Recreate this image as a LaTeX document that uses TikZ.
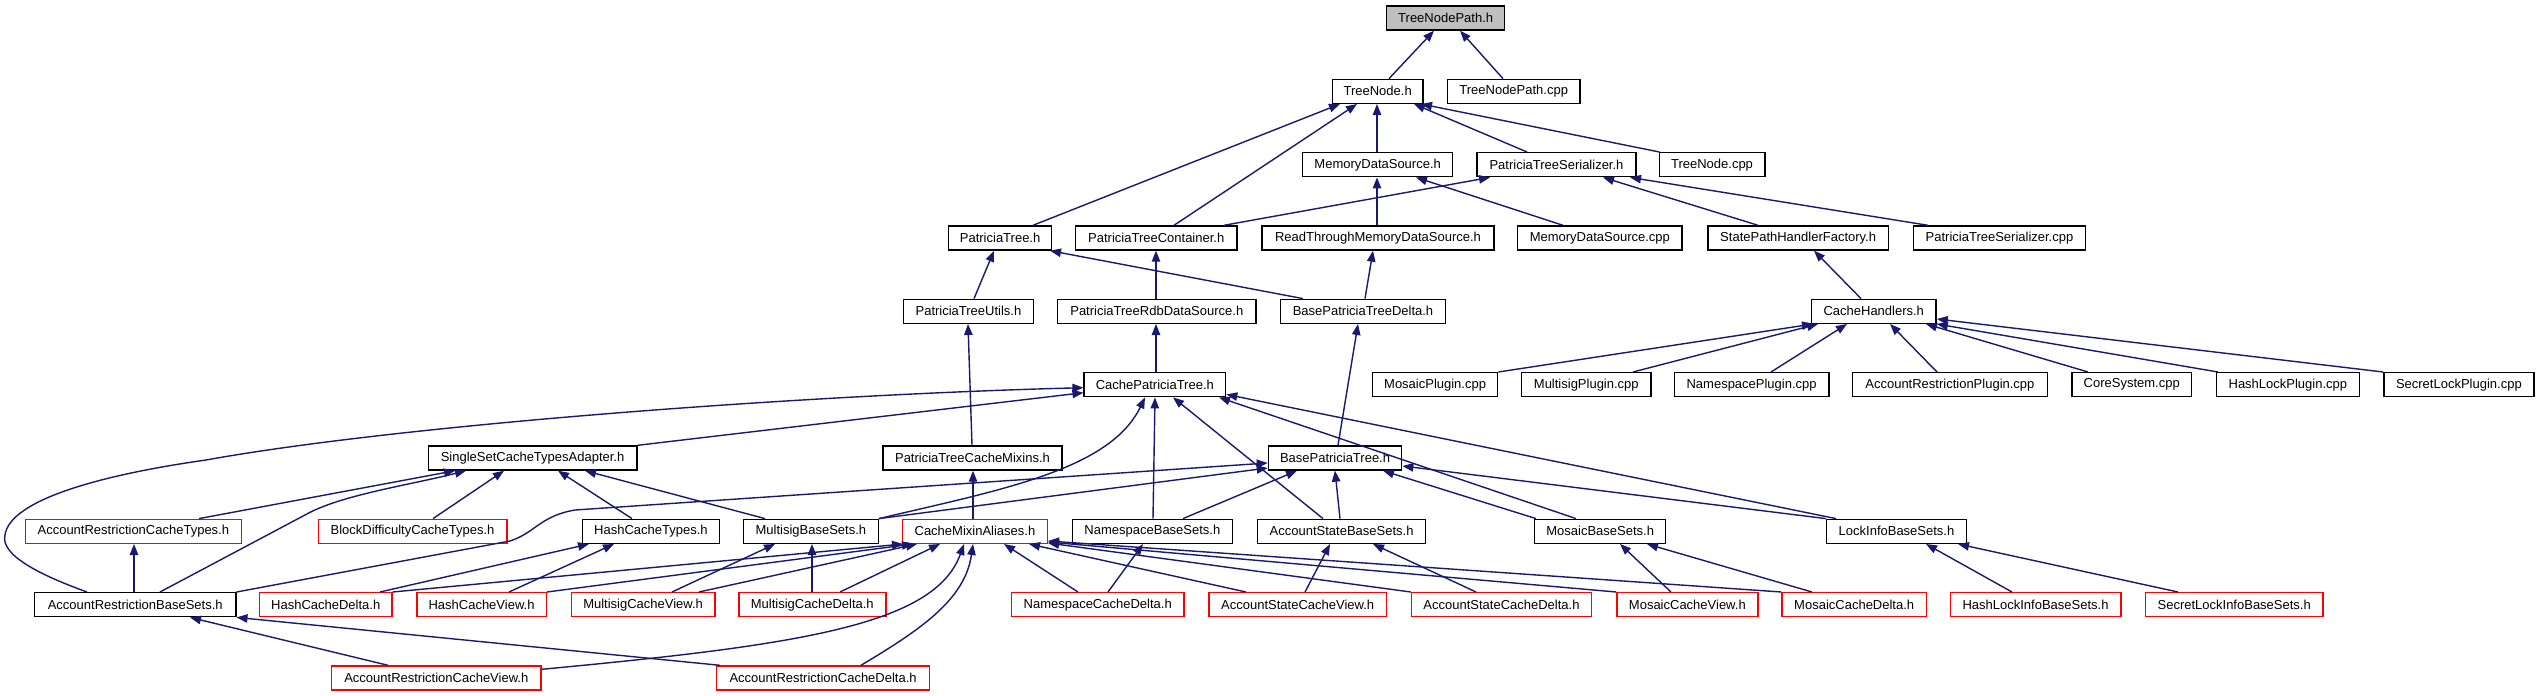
\documentclass[tikz,border=0pt]{standalone}
\usepackage{fontspec}
\setmainfont{Liberation Sans}
\usetikzlibrary{arrows.meta,calc}
\definecolor{navyc}{HTML}{191970}
\definecolor{redc}{HTML}{FF0000}
\newcommand\gnode[6]{\pgfmathsetmacro\gcx{(#3+#4)/2}\pgfmathsetmacro\gw{(#4-#3)*0.5}\node[#2, minimum width=\gw pt] (#1) at (\gcx,#5) {#6};}
\newcommand\ed[4]{\draw[edge] (#1.north -| #2,0) -- (#3.south -| #4,0);}
\begin{document}
\begin{tikzpicture}[x=0.5pt,y=-0.5pt,
  box/.style={draw=black, line width=0.7pt, fill=white, minimum height=12pt, inner sep=0pt, font=\fontsize{6.5}{7}\selectfont},
  redbox/.style={box, draw=redc},
  rootbox/.style={box, fill=gray!50},
  edge/.style={draw=navyc, line width=0.7pt, -{Triangle[length=5.5pt,width=4.2pt]}}]
\useasboundingbox (0,0) rectangle (2539,696);
\fill[white] (0,0) rectangle (2539,696);
% nodes
\gnode{TNP}{rootbox}{1386.6}{1504.7}{18}{TreeNodePath.h}
\gnode{TN}{box}{1332.4}{1422.9}{91.3}{TreeNode.h}
\gnode{TNPcpp}{box}{1447.3}{1580.1}{91.3}{TreeNodePath.cpp}
\gnode{MDS}{box}{1302.6}{1452.7}{164.7}{MemoryDataSource.h}
\gnode{PTS}{box}{1477.1}{1635.9}{164.7}{PatriciaTreeSerializer.h}
\gnode{TNcpp}{box}{1659.2}{1764.8}{164.7}{TreeNode.cpp}
\gnode{PT}{box}{948.6}{1051.6}{238}{PatriciaTree.h}
\gnode{PTC}{box}{1075.5}{1237}{238}{PatriciaTreeContainer.h}
\gnode{RTMDS}{box}{1262}{1494}{238}{ReadThroughMemoryDataSource.h}
\gnode{MDScpp}{box}{1517.7}{1682}{238}{MemoryDataSource.cpp}
\gnode{SPHF}{box}{1707.9}{1888.4}{238}{StatePathHandlerFactory.h}
\gnode{PTScpp}{box}{1913.3}{2085.7}{238}{PatriciaTreeSerializer.cpp}
\gnode{PTU}{box}{903.7}{1033.2}{311.3}{PatriciaTreeUtils.h}
\gnode{PTRDB}{box}{1057.6}{1256}{311.3}{PatriciaTreeRdbDataSource.h}
\gnode{BPTD}{box}{1280.3}{1445.7}{311.3}{BasePatriciaTreeDelta.h}
\gnode{CH}{box}{1811.4}{1936.1}{311.3}{CacheHandlers.h}
\gnode{CPT}{box}{1084.1}{1225.6}{384.7}{CachePatriciaTree.h}
\gnode{MPcpp}{box}{1372.5}{1497.7}{384.7}{MosaicPlugin.cpp}
\gnode{MSPcpp}{box}{1521.5}{1651.1}{384.7}{MultisigPlugin.cpp}
\gnode{NPcpp}{box}{1674.4}{1828.8}{384.7}{NamespacePlugin.cpp}
\gnode{ARPcpp}{box}{1852.6}{2047.2}{384.7}{AccountRestrictionPlugin.cpp}
\gnode{CScpp}{box}{2072.1}{2191.4}{384.7}{CoreSystem.cpp}
\gnode{HLPcpp}{box}{2216.3}{2359.4}{384.7}{HashLockPlugin.cpp}
\gnode{SLPcpp}{box}{2383.8}{2533.9}{384.7}{SecretLockPlugin.cpp}
\gnode{SSCTA}{box}{428.2}{636.9}{458}{SingleSetCacheTypesAdapter.h}
\gnode{PTCM}{box}{883}{1062}{458}{PatriciaTreeCacheMixins.h}
\gnode{BPT}{box}{1268.4}{1401.7}{458}{BasePatriciaTree.h}
\gnode{ARCT}{redbox}{25.5}{241.2}{531.3}{AccountRestrictionCacheTypes.h}
\gnode{BDCT}{redbox}{318.2}{506.8}{531.3}{BlockDifficultyCacheTypes.h}
\gnode{HCT}{box}{582.7}{719.2}{531.3}{HashCacheTypes.h}
\gnode{MSBS}{box}{743.6}{878.2}{531.3}{MultisigBaseSets.h}
\gnode{CMA}{redbox}{902.6}{1047.3}{531.3}{CacheMixinAliases.h}
\gnode{NBS}{box}{1072.2}{1232.6}{531.3}{NamespaceBaseSets.h}
\gnode{ASBS}{box}{1257.6}{1425.6}{531.3}{AccountStateBaseSets.h}
\gnode{MBS}{box}{1534.6}{1665.7}{531.3}{MosaicBaseSets.h}
\gnode{LIBS}{box}{1826.6}{1966.4}{531.3}{LockInfoBaseSets.h}
\gnode{ARBS}{box}{34.7}{235.8}{604.7}{AccountRestrictionBaseSets.h}
\gnode{HCD}{redbox}{259.6}{391.9}{604.7}{HashCacheDelta.h}
\gnode{HCV}{redbox}{416.8}{546.3}{604.7}{HashCacheView.h}
\gnode{MSCV}{redbox}{571.3}{714.9}{604.7}{MultisigCacheView.h}
\gnode{MSCD}{redbox}{738.8}{885.8}{604.7}{MultisigCacheDelta.h}
\gnode{NCD}{redbox}{1011.5}{1183.9}{604.7}{NamespaceCacheDelta.h}
\gnode{ASCV}{redbox}{1208.8}{1386.6}{604.7}{AccountStateCacheView.h}
\gnode{ASCD}{redbox}{1411.5}{1591.5}{604.7}{AccountStateCacheDelta.h}
\gnode{MCV}{redbox}{1616.9}{1757.8}{604.7}{MosaicCacheView.h}
\gnode{MCD}{redbox}{1782.1}{1926.3}{604.7}{MosaicCacheDelta.h}
\gnode{HLIBS}{redbox}{1950.2}{2120.9}{604.7}{HashLockInfoBaseSets.h}
\gnode{SLIBS}{redbox}{2145.3}{2323.1}{604.7}{SecretLockInfoBaseSets.h}
\gnode{ARCV}{redbox}{331.7}{540.9}{678}{AccountRestrictionCacheView.h}
\gnode{ARCD}{redbox}{716.5}{929.7}{678}{AccountRestrictionCacheDelta.h}
% upper edges
\ed{TN}{1389}{TNP}{1434}
\ed{TNPcpp}{1503}{TNP}{1460}
\ed{PT}{1033}{TN}{1340}
\ed{PTC}{1174}{TN}{1357}
\ed{MDS}{1377}{TN}{1377}
\ed{PTS}{1527}{TN}{1414}
\ed{TNcpp}{1659.5}{TN}{1421}
\ed{PTC}{1224}{PTS}{1490}
\ed{SPHF}{1758}{PTS}{1603}
\ed{PTScpp}{1928}{PTS}{1630}
\ed{RTMDS}{1377}{MDS}{1377}
\ed{MDScpp}{1563}{MDS}{1416}
\ed{PTU}{974}{PT}{994}
\ed{BPTD}{1303}{PT}{1050}
\ed{PTRDB}{1156}{PTC}{1156}
\ed{BPTD}{1365}{RTMDS}{1373}
\ed{CH}{1861}{SPHF}{1814}
\ed{CPT}{1156}{PTRDB}{1156}
\ed{BPT}{1338}{BPTD}{1358}
\ed{PTCM}{972}{PTU}{968}
% CacheHandlers
\draw[edge] (MPcpp.north east) -- (CH.south -| 1813,0);
\ed{MSPcpp}{1633}{CH}{1818}
\ed{NPcpp}{1771}{CH}{1847}
\ed{ARPcpp}{1937}{CH}{1890}
\ed{CScpp}{2088}{CH}{1926}
\draw[edge] (HLPcpp.north -| 2218,0) -- (CH.south east);
\draw[edge] (SLPcpp.north west) -- ($(CH.south east)+(0,-5)$);
% CachePatriciaTree
\draw[edge] (SSCTA.north east) -- ($(CPT.west)+(0,8)$);
\draw[edge] (ARBS.north -| 87,0) .. controls (40,575) and (0,555) .. (5,535) .. controls (10,500) and (100,475) .. (206,460) .. controls (400,425) and (800,395) .. ($(CPT.west)+(0,3)$);
\draw[edge] (MSBS.north east) .. controls (1000,490) and (1110,470) .. (CPT.south -| 1145,0);
\ed{NBS}{1153}{CPT}{1155}
\ed{ASBS}{1323}{CPT}{1173}
\draw[edge] (MBS.north -| 1576,0) -- (CPT.south -| 1219,0);
\draw[edge] (LIBS.north -| 1836,0) -- ($(CPT.south east)+(0,-3)$);
% BasePatriciaTree
\draw[edge] (ARBS.north east) -- (510,541) .. controls (535,533) and (540,516) .. (575,510) -- ($(BPT.west)+(0,5)$);
\draw[edge] (MSBS.north east) -- ($(BPT.west)+(0,10)$);
\ed{NBS}{1183}{BPT}{1297}
\ed{ASBS}{1340}{BPT}{1335}
\ed{MBS}{1536}{BPT}{1383}
\draw[edge] (LIBS.north west) -- ($(BPT.east)+(0,8)$);
\ed{CMA}{973}{PTCM}{973}
% SingleSetCacheTypesAdapter
\ed{ARCT}{199}{SSCTA}{455}
\draw[edge] (ARBS.north -| 160,0) -- (305,515) .. controls (340,495) and (410,485) .. (SSCTA.south -| 466,0);
\ed{BDCT}{433}{SSCTA}{504}
\ed{HCT}{632}{SSCTA}{558}
\ed{MSBS}{765}{SSCTA}{585}
\ed{ARBS}{134}{ARCT}{134}
\ed{HCD}{380}{HCT}{589}
\ed{HCV}{509}{HCT}{614}
\ed{MSCV}{672}{MSBS}{775}
\ed{MSCD}{812}{MSBS}{812}
% CacheMixinAliases
\draw[edge] (HCD.north east) -- (CMA.south -| 903,0);
\draw[edge] (HCV.north east) -- (CMA.south -| 913,0);
\ed{MSCV}{699}{CMA}{917}
\ed{MSCD}{840}{CMA}{940}
\draw[edge] ($(ARCV.north east)+(0,4)$) .. controls (800,645) and (935,625) .. (CMA.south -| 964,0);
\draw[edge] (ARCD.north -| 861,0) .. controls (920,630) and (965,600) .. (CMA.south -| 973,0);
\ed{NCD}{1078}{CMA}{1004}
\ed{ASCV}{1246}{CMA}{1029}
\draw[edge] (ASCD.north west) -- ($(CMA.south east)+(0,-1)$);
\draw[edge] (MCV.north west) -- ($(CMA.south east)+(0,-2)$);
\draw[edge] (MCD.north west) -- ($(CMA.south east)+(0,-3)$);
% others
\ed{NCD}{1108}{NBS}{1143}
\ed{ASCV}{1305}{ASBS}{1330}
\ed{ASCD}{1476}{ASBS}{1373}
\ed{MCV}{1671}{MBS}{1620}
\ed{MCD}{1812}{MBS}{1647}
\ed{HLIBS}{2012}{LIBS}{1926}
\ed{SLIBS}{2178}{LIBS}{1958}
\ed{ARCV}{388}{ARBS}{190}
\draw[edge] (ARCD.north -| 720,0) -- (ARBS.south east);
\end{tikzpicture}
\end{document}
